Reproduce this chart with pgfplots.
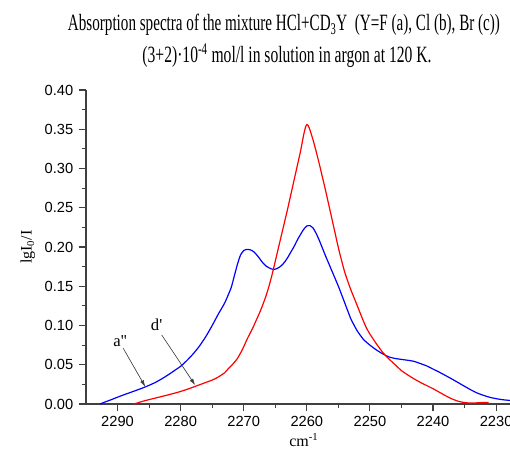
\documentclass[border=0pt]{standalone}
\usepackage{pgfplots}
\pgfplotsset{compat=1.18}
\usetikzlibrary{arrows.meta}
\usepackage{fontspec}
\usepackage{graphicx}
\setmainfont{Liberation Serif}
\newfontfamily\rawserif[Ligatures=TeXOff]{Liberation Serif}
\newfontfamily\arial{Liberation Sans}
\pgfplotstableread{
nu a
2292.8 0
2292 0.0025
2291 0.0055
2290 0.0087
2289 0.0117
2288 0.0146
2287 0.0175
2286 0.0205
2285 0.0238
2284 0.0275
2283 0.0320
2282 0.0370
2281 0.0425
2280 0.0480
2279 0.0555
2278 0.0640
2277 0.0740
2276 0.0860
2275 0.1000
2274 0.1150
2273 0.1290
2272 0.1480
2271.5 0.163
2271 0.178
2270.5 0.190
2270 0.1955
2269.5 0.1970
2269 0.1965
2268.5 0.1945
2268 0.1905
2267.5 0.1855
2267 0.1800
2266.5 0.1760
2266 0.1735
2265.5 0.1718
2265 0.1718
2264.5 0.1735
2264 0.1765
2263.5 0.181
2263 0.187
2262.5 0.194
2262 0.201
2261.5 0.209
2261 0.216
2260.5 0.2225
2260 0.2268
2259.5 0.2272
2259 0.2240
2258.5 0.2170
2258 0.2080
2257.5 0.1980
2257 0.1880
2256 0.169
2255 0.150
2254 0.129
2253 0.108
2252 0.093
2251 0.082
2250 0.075
2249 0.069
2248 0.064
2247 0.060
2246 0.058
2245 0.0568
2244 0.0557
2243 0.0543
2242 0.0515
2241 0.0485
2240 0.0445
2239 0.0405
2238 0.0362
2237 0.0318
2236 0.0272
2235 0.0225
2234 0.0180
2233 0.0140
2232 0.0110
2231 0.0085
2230 0.0068
2229 0.0055
2227.8 0.0045
}\blue
\pgfplotstableread{
nu d
2287.5 0
2287 0.001
2286 0.0035
2285 0.0056
2284 0.0076
2283 0.0096
2282 0.0116
2281 0.0137
2280 0.016
2279 0.0186
2278 0.0215
2277 0.0245
2276 0.0275
2275 0.0305
2274 0.0345
2273 0.040
2272.5 0.0445
2272 0.0485
2271.5 0.053
2271 0.058
2270.5 0.065
2270 0.073
2269.5 0.082
2269 0.090
2268.5 0.098
2268 0.107
2267.5 0.116
2267 0.126
2266.5 0.137
2266 0.150
2265.5 0.165
2265 0.182
2264.5 0.199
2264 0.216
2263.5 0.233
2263 0.250
2262.5 0.268
2262 0.286
2261.5 0.304
2261 0.322
2260.5 0.343
2260.2 0.353
2260 0.356
2259.8 0.355
2259.5 0.349
2259 0.336
2258.5 0.321
2258 0.305
2257.5 0.288
2257 0.271
2256.5 0.253
2256 0.235
2255.5 0.217
2255 0.199
2254.5 0.183
2254 0.168
2253.5 0.156
2253 0.145
2252.5 0.135
2252 0.125
2251.5 0.115
2251 0.105
2250.5 0.096
2250 0.089
2249 0.077
2248 0.066
2247 0.0575
2246 0.050
2245 0.0425
2244 0.037
2243 0.032
2242 0.0275
2241 0.0235
2240 0.0195
2239 0.015
2238 0.0105
2237 0.0065
2236 0.0035
2235 0.0018
2234 0.0012
2233 0.0015
2232 0.002
2231.2 0.002
}\red
\begin{document}
\begin{tikzpicture}
\begin{axis}[
  name=ax,
  scale only axis,
  width=318pt, height=235.5pt,
  x dir=reverse,
  xmin=2227.8, xmax=2295,
  ymin=0, ymax=0.40,
  axis x line*=bottom, axis y line*=left,
  axis line style={black!75, line width=0.8pt},
  tick style={black!75, line width=0.8pt},
  tick align=outside,
  major tick length=5.5pt, minor tick length=3.2pt,
  xtick={2290,2280,2270,2260,2250,2240,2230},
  ytick={0,0.05,0.10,0.15,0.20,0.25,0.30,0.35,0.40},
  minor x tick num=1, minor y tick num=1,
  /pgf/number format/assume math mode=true,
  x tick label style={/pgf/number format/1000 sep={}, font=\arial\fontsize{11}{12}\selectfont, yshift=-0.5pt},
  y tick label style={/pgf/number format/fixed, /pgf/number format/fixed zerofill, /pgf/number format/precision=2, font=\arial\fontsize{11}{12}\selectfont, xshift=-0.5pt},
  every axis y label/.style={at={(axis description cs:-0.137,0.5)}, rotate=90, anchor=center},
  every axis x label/.style={at={(axis description cs:0.514,-0.134)}, anchor=base},
  ylabel={\fontsize{12}{14}\selectfont lgI\textsubscript{0}/I},
  xlabel={\fontsize{12}{14}\selectfont cm\textsuperscript{-1}},
  clip=true,
]
\addplot[blue, line width=0.9pt, smooth, tension=0.3] table[x=nu, y=a] {\blue};
\addplot[red, line width=0.9pt, smooth, tension=0.3] table[x=nu, y=d] {\red};
\draw[black!75, line width=0.5pt, -{Latex[length=5pt,width=3pt]}] (axis cs:2289.1,0.071) -- (axis cs:2285.6,0.022);
\draw[black!75, line width=0.5pt, -{Latex[length=5pt,width=3pt]}] (axis cs:2283.0,0.088) -- (axis cs:2277.7,0.024);
\node[font=\rawserif\fontsize{12.5}{14}\selectfont, anchor=base] at (axis cs:2289.6,0.073) {a''};
\node[font=\rawserif\fontsize{12.5}{14}\selectfont, anchor=base] at (axis cs:2283.8,0.093) {d'};
\end{axis}
\node[anchor=base, font=\fontsize{17.5}{19}\selectfont] at ([xshift=148.5pt, yshift=44.25pt]ax.north west)
  {\resizebox{324pt}{\height}{Absorption spectra of the mixture HCl+CD\textsubscript{3}Y\ \ (Y=F (a), Cl (b), Br (c))}};
\node[anchor=base, font=\fontsize{17.5}{19}\selectfont] at ([xshift=150.75pt, yshift=20.5pt]ax.north west)
  {\resizebox{216.75pt}{\height}{(3+2)·10\textsuperscript{-4} mol/l in solution in argon at 120 K.}};
\pgfresetboundingbox
\path[use as bounding box] ([xshift=-64.5pt, yshift=-34.5pt]ax.south west) rectangle ([yshift=67.5pt]ax.north east);
\end{tikzpicture}
\end{document}
